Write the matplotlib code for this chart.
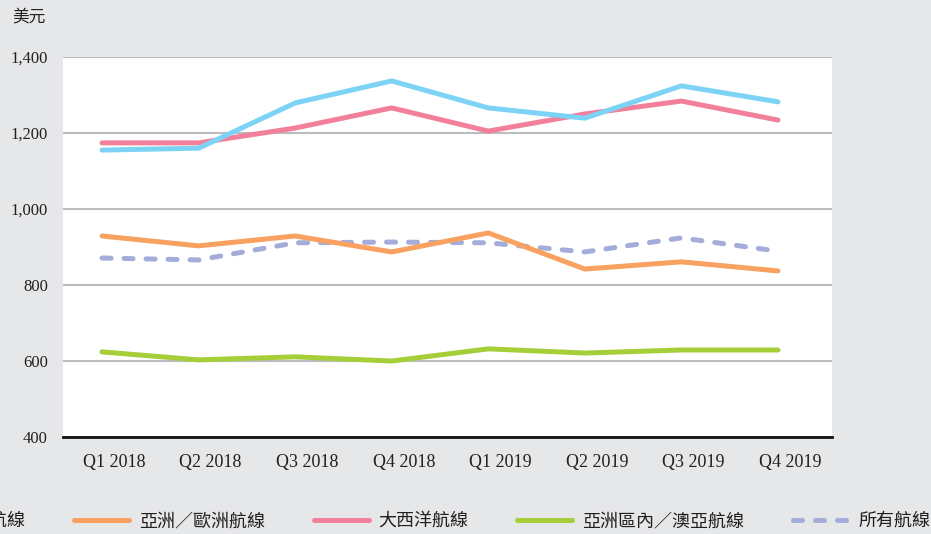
import matplotlib
matplotlib.use("Agg")
import matplotlib.pyplot as plt

quarters = ["Q1 2018", "Q2 2018", "Q3 2018", "Q4 2018",
            "Q1 2019", "Q2 2019", "Q3 2019", "Q4 2019"]
transpacific = [1155, 1160, 1279, 1337, 1266, 1239, 1324, 1282]
asia_europe = [929, 903, 929, 887, 937, 842, 861, 837]
transatlantic = [1174, 1174, 1213, 1266, 1205, 1250, 1284, 1234]
intra_asia = [624, 603, 611, 600, 632, 621, 629, 629]
all_routes = [871, 866, 911, 913, 911, 887, 924, 889]
y_ticks = [400, 600, 800, 1000, 1200, 1400]

cjk = ["Noto Sans CJK TC", "DejaVu Sans"]
serif = ["Liberation Serif", "DejaVu Serif"]
bg = "#e6e7e9"

fig = plt.figure(figsize=(9.31, 5.34), dpi=100, facecolor=bg)
ax = fig.add_axes([0.0677, 0.1816, 0.826, 0.7117])
ax.set_facecolor("white")

x = list(range(len(quarters)))
lw = 3.6
l1, = ax.plot(x, transpacific, color="#7dd3f5", lw=lw, solid_capstyle="round", label="跨太平洋航線", zorder=3)
l2, = ax.plot(x, asia_europe, color="#f8a160", lw=lw, solid_capstyle="round", label="亞洲／歐洲航線", zorder=3)
l3, = ax.plot(x, transatlantic, color="#f2809a", lw=lw, solid_capstyle="round", label="大西洋航線", zorder=2)
l4, = ax.plot(x, intra_asia, color="#a6ce39", lw=lw, solid_capstyle="round", label="亞洲區內／澳亞航線", zorder=3)
l5, = ax.plot(x, all_routes, color="#a4acd9", lw=lw, dashes=(1.8, 2.6), dash_capstyle="round",
              label="所有航線", zorder=2)

ax.set_xlim(-0.404, 7.56)
ax.set_ylim(400, 1400)
ax.set_yticks(y_ticks)
ax.set_yticklabels([f"{v:,}" for v in y_ticks], fontfamily=serif, fontsize=12, color="#231f20")
# labels in the reference sit a little right of the data points
ax.set_xticks([i + 0.125 for i in x])
ax.set_xticklabels(quarters, fontfamily=serif, fontsize=13, color="#231f20")
ax.tick_params(axis="both", length=0)
ax.tick_params(axis="x", pad=12)
ax.tick_params(axis="y", pad=11)
ax.grid(axis="y", color="#bcbcc0", lw=1.5, zorder=1)
ax.set_axisbelow(True)
for s in ["left", "right", "top"]:
    ax.spines[s].set_visible(False)
ax.spines["bottom"].set_color("#111111")
ax.spines["bottom"].set_linewidth(2)
ax.spines["bottom"].set_zorder(4)

fig.text(12 / 931, 1 - 18 / 534, "美元", fontfamily=cjk, fontsize=12, color="#231f20",
         ha="left", va="center")

fig.legend(handles=[l1, l2, l3, l4, l5], loc="center right", bbox_to_anchor=(0.999, 1 - 521 / 534),
           ncol=5, frameon=False, borderpad=0, borderaxespad=0,
           handlelength=3.05, handletextpad=0.55, columnspacing=2.7,
           prop={"family": cjk, "size": 13}, labelcolor="#231f20")

fig.savefig("out.png", dpi=100, facecolor=bg)
